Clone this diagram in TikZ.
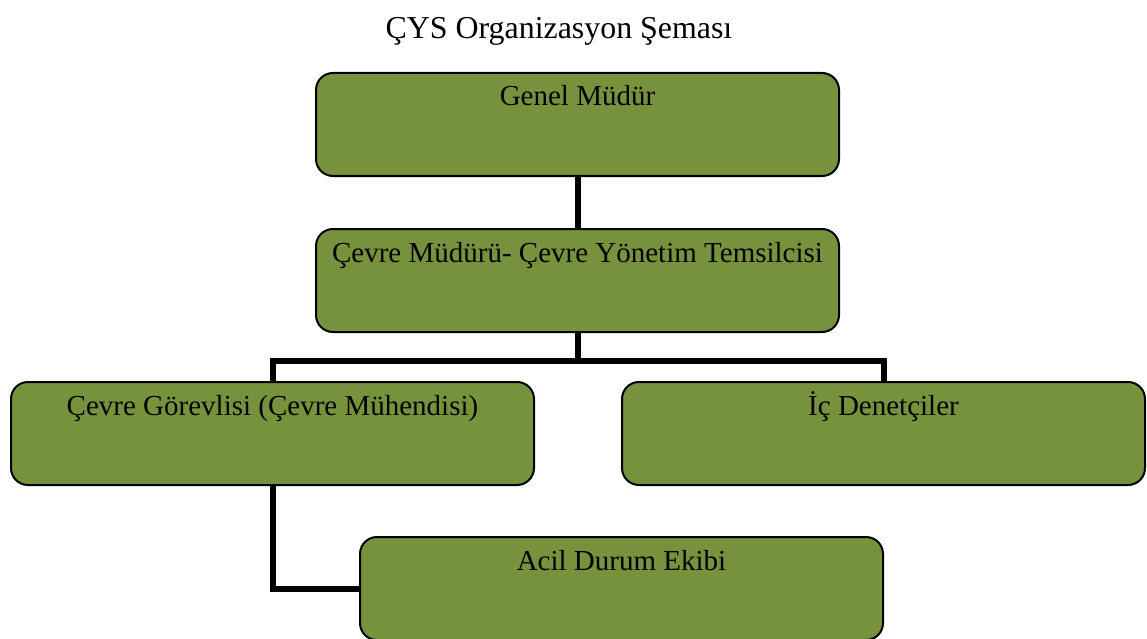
\documentclass[tikz,border=0pt]{standalone}
\usepackage{fontspec}
\setmainfont{Liberation Serif}
\usetikzlibrary{backgrounds}
\definecolor{olive}{RGB}{119,146,60}
\begin{document}
\begin{tikzpicture}[x=1pt,y=1pt,
  box/.style={draw=black,line width=2pt,fill=olive,rounded corners=17pt,
    minimum width=523pt,minimum height=103pt,inner sep=0pt,anchor=north west},
  boxtext/.style={anchor=base,inner sep=0pt,font=\fontsize{29}{34}\selectfont},
  conn/.style={line width=6pt}]
\useasboundingbox (0,0) rectangle (1147,-639);
\node[anchor=base,inner sep=0pt,font=\fontsize{31.9}{36}\selectfont] (title) at (559,-39) {ÇYS Organizasyon Şeması};
\node[box] (b1) at (315,-72) {};
\node[box] (b2) at (315,-228) {};
\node[box] (b3) at (10,-381) {};
\node[box] (b4) at (621,-381) {};
\node[box] (b5) at (359,-536) {};
\node[boxtext] (t1) at ([yshift=-34pt]b1.north) {Genel Müdür};
\node[boxtext] (t2) at ([yshift=-34pt]b2.north) {Çevre Müdürü- Çevre Yönetim Temsilcisi};
\node[boxtext] (t3) at ([yshift=-34pt]b3.north) {Çevre Görevlisi (Çevre Mühendisi)};
\node[boxtext] (t4) at ([yshift=-34pt]b4.north) {İç Denetçiler};
\node[boxtext] (t5) at ([yshift=-34pt]b5.north) {Acil Durum Ekibi};
\begin{scope}[on background layer]
\coordinate (bar) at ([yshift=-28pt]b2.south);
\draw[conn] (b1.south) -- (b2.north);
\draw[conn] (b2.south) -- (bar);
\draw[conn] (b3.north) |- (bar) -| (b4.north);
\draw[conn] (b3.south) |- (b5.west);
\end{scope}
\end{tikzpicture}
\end{document}
